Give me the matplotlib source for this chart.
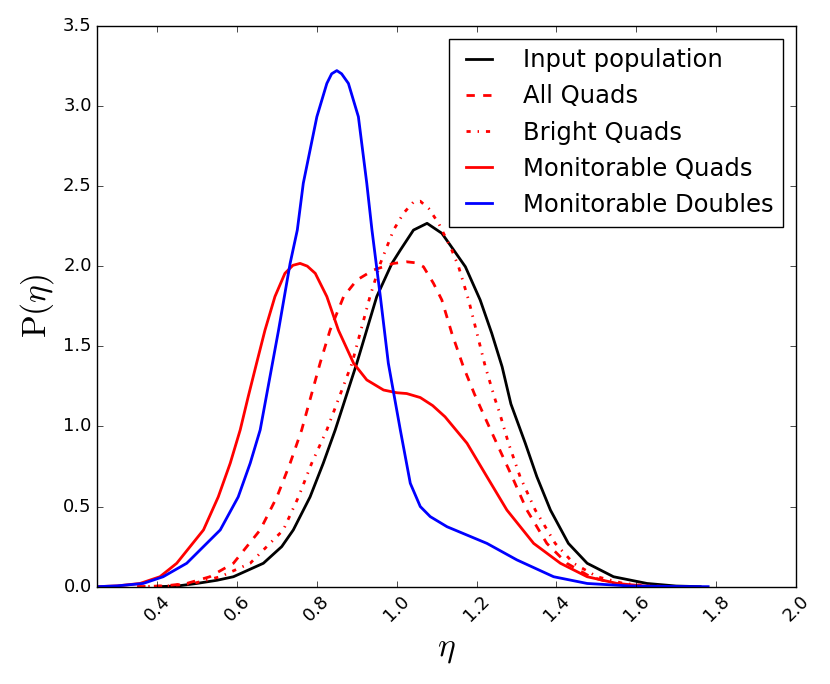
import matplotlib
matplotlib.use('Agg')
import matplotlib.pyplot as plt

# values
eta_input = [0.40, 0.45, 0.499, 0.55, 0.591, 0.666, 0.712, 0.741, 0.783, 0.816, 0.846, 0.90, 0.95, 0.988, 1.009,
             1.042, 1.076, 1.113, 1.14, 1.172, 1.209, 1.238, 1.264, 1.286, 1.322, 1.351, 1.385, 1.43, 1.477,
             1.543, 1.627, 1.70, 1.76]
p_input = [0.0, 0.004, 0.02, 0.04, 0.062, 0.146, 0.25, 0.354, 0.56, 0.77, 0.978, 1.394, 1.81, 2.017, 2.10,
           2.225, 2.267, 2.205, 2.11, 1.996, 1.789, 1.581, 1.372, 1.14, 0.895, 0.686, 0.478, 0.27, 0.146,
           0.062, 0.02, 0.004, 0.0]

eta_allq = [0.35, 0.42, 0.474, 0.532, 0.591, 0.658, 0.70, 0.733, 0.762, 0.808, 0.833, 0.867, 0.90, 0.942,
            0.992, 1.025, 1.05, 1.067, 1.092, 1.113, 1.138, 1.167, 1.195, 1.222, 1.255, 1.289, 1.326, 1.376,
            1.426, 1.485, 1.543, 1.59, 1.63]
p_allq = [0.0, 0.005, 0.02, 0.062, 0.146, 0.354, 0.56, 0.77, 0.978, 1.394, 1.60, 1.81, 1.913, 1.976,
          2.017, 2.027, 2.02, 1.996, 1.893, 1.789, 1.581, 1.372, 1.20, 1.05, 0.87, 0.686, 0.478, 0.27,
          0.146, 0.062, 0.02, 0.005, 0.0]

eta_brightq = [0.35, 0.43, 0.49, 0.558, 0.633, 0.716, 0.754, 0.787, 0.825, 0.888, 0.933, 0.959, 0.992, 1.017,
               1.042, 1.059, 1.08, 1.105, 1.138, 1.155, 1.18, 1.201, 1.222, 1.247, 1.257, 1.28, 1.309, 1.347,
               1.397, 1.443, 1.502, 1.568, 1.63, 1.69]
p_brightq = [0.0, 0.005, 0.02, 0.062, 0.146, 0.354, 0.56, 0.77, 0.978, 1.394, 1.81, 2.017, 2.225, 2.33,
             2.40, 2.405, 2.36, 2.267, 2.10, 1.996, 1.789, 1.581, 1.372, 1.164, 1.09, 0.895, 0.686, 0.478,
             0.27, 0.146, 0.062, 0.02, 0.005, 0.0]

eta_monq = [0.25, 0.30, 0.357, 0.407, 0.449, 0.516, 0.553, 0.583, 0.608, 0.628, 0.649, 0.670, 0.695, 0.72,
            0.74, 0.758, 0.776, 0.796, 0.825, 0.854, 0.892, 0.925, 0.967, 1.0, 1.025, 1.059, 1.09, 1.121,
            1.176, 1.226, 1.276, 1.343, 1.41, 1.477, 1.552, 1.62, 1.67]
p_monq = [0.0, 0.005, 0.02, 0.062, 0.146, 0.354, 0.56, 0.77, 0.978, 1.185, 1.394, 1.60, 1.81, 1.955,
          2.005, 2.017, 2.0, 1.955, 1.81, 1.60, 1.394, 1.29, 1.227, 1.21, 1.205, 1.18, 1.13, 1.06,
          0.895, 0.686, 0.478, 0.27, 0.146, 0.062, 0.02, 0.004, 0.0]

eta_mond = [0.25, 0.30, 0.365, 0.415, 0.474, 0.558, 0.603, 0.633, 0.658, 0.704, 0.733, 0.751, 0.766, 0.80,
            0.825, 0.837, 0.85, 0.862, 0.879, 0.904, 0.925, 0.938, 0.959, 0.979, 1.009, 1.034, 1.059, 1.084,
            1.126, 1.226, 1.301, 1.393, 1.477, 1.585, 1.70, 1.78]
p_mond = [0.0, 0.005, 0.02, 0.062, 0.146, 0.354, 0.56, 0.77, 0.978, 1.60, 2.017, 2.225, 2.517, 2.932,
          3.14, 3.20, 3.22, 3.20, 3.14, 2.932, 2.517, 2.225, 1.81, 1.394, 0.978, 0.645, 0.50, 0.437,
          0.374, 0.27, 0.167, 0.062, 0.02, 0.004, 0.001, 0.0]

x_ticks = [0.4, 0.6, 0.8, 1.0, 1.2, 1.4, 1.6, 1.8, 2.0]
y_ticks = [0.0, 0.5, 1.0, 1.5, 2.0, 2.5, 3.0, 3.5]

plt.style.use('classic')
plt.rcParams['mathtext.fontset'] = 'cm'
plt.rcParams['font.size'] = 13

fig = plt.figure(figsize=(8.3, 6.84), dpi=100, facecolor='white')
ax = fig.add_axes([0.1172, 0.1423, 0.8418, 0.8201])

ax.plot(eta_input, p_input, 'k-', lw=2, label='Input population')
ax.plot(eta_allq, p_allq, 'r--', lw=2, label='All Quads')
ax.plot(eta_brightq, p_brightq, 'r-.', lw=2, label='Bright Quads')
ax.plot(eta_monq, p_monq, 'r-', lw=2, label='Monitorable Quads')
ax.plot(eta_mond, p_mond, 'b-', lw=2, label='Monitorable Doubles')

ax.set_xlim(0.25, 2.0)
ax.set_ylim(0.0, 3.5)
ax.set_xticks(x_ticks)
ax.set_yticks(y_ticks)
plt.setp(ax.get_xticklabels(), rotation=45)

ax.set_xlabel(r'$\eta$', fontsize=24)
ax.set_ylabel(r'$\mathrm{P}(\eta)$', fontsize=24)

leg = ax.legend(loc='upper right', fontsize=17.5, handlelength=1.7, handletextpad=0.95,
                borderaxespad=0.53, borderpad=0.4, labelspacing=0.5)
leg.get_frame().set_linewidth(1.0)

fig.savefig('out.png', dpi=100, facecolor='white')
